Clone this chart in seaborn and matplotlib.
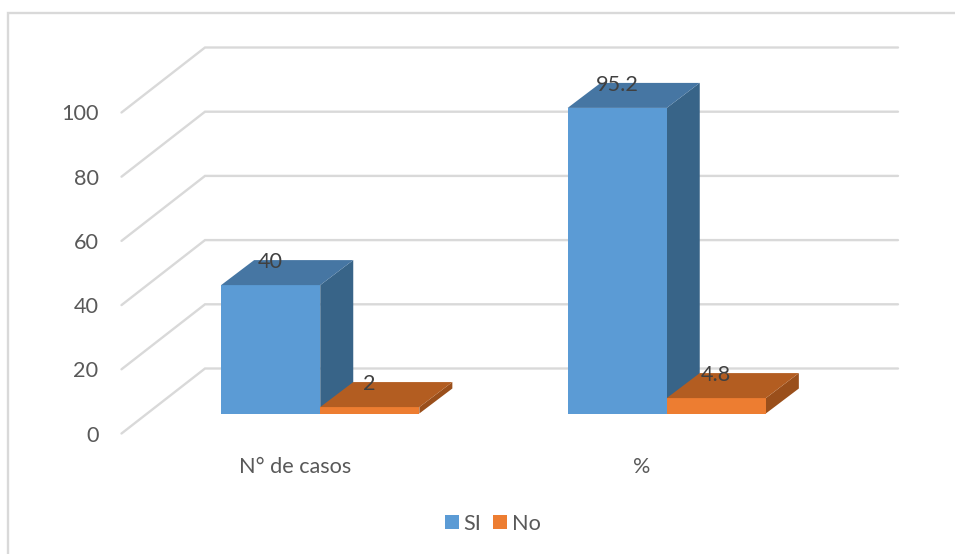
import matplotlib
matplotlib.use("Agg")
import matplotlib.pyplot as plt
import pandas as pd
import seaborn as sns
from matplotlib.lines import Line2D
from matplotlib.patches import Polygon

categories = ["N° de casos", "%"]
si_values = [40, 95.2]
no_values = [2, 4.8]
series_names = ["SI", "No"]
y_ticks = [0, 20, 40, 60, 80, 100]

W, H = 955, 554
FRONT_COLORS = ["#5B9BD5", "#ED7D31"]
TOP_COLORS = ["#4676A3", "#B35D21"]
SIDE_COLORS = ["#386488", "#9A4F1B"]
GRID = "#D9D9D9"
LABEL = "#404040"
TICK = "#595959"
FONT_SIZE = 15.6

sns.set_theme(style="white")
plt.rcParams["font.family"] = ["Lato", "DejaVu Sans"]

fig = plt.figure(figsize=(W / 100, H / 100), dpi=100)


def box(left, top, right, bottom):
    return [left / W, 1 - bottom / H, (right - left) / W, (bottom - top) / H]


# Front plane of the 3D scene: carries the axes and the floor/wall grid
wall = fig.add_axes(box(121.5, 112.5, 814.5, 433.5))
wall.set_xlim(-0.5, 1.5)
wall.set_ylim(0, 100)
wall.patch.set_alpha(0)
sns.despine(ax=wall, left=True, bottom=True)

px_x = 2 / 693     # data units per pixel along x
px_y = 100 / 321   # data units per pixel along y
depth_x, depth_y = 83.5 * px_x, 65 * px_y

for v in y_ticks:
    wall.plot([-0.5, -0.5 + depth_x, 1.5 + depth_x],
              [v, v + depth_y, v + depth_y],
              color=GRID, lw=1.7, clip_on=False, solid_joinstyle="miter", zorder=1)

wall.set_xticks(range(len(categories)), categories)
wall.set_yticks(y_ticks)
wall.tick_params(axis="x", length=0, pad=17, labelsize=FONT_SIZE, labelcolor=TICK)
wall.tick_params(axis="y", length=0, pad=16.5, labelsize=FONT_SIZE, labelcolor=TICK)

# Bars sit a little way back from the front plane
bars_ax = fig.add_axes(box(147, 92.5, 840, 413.5))
bars_ax.patch.set_alpha(0)
df = pd.DataFrame({
    "categoria": categories * 2,
    "serie": [series_names[0]] * 2 + [series_names[1]] * 2,
    "valor": si_values + no_values,
})
sns.barplot(data=df, x="categoria", y="valor", hue="serie", order=categories,
            hue_order=series_names, palette=FRONT_COLORS, width=0.572, gap=0,
            saturation=1, linewidth=0, edgecolor="none", ax=bars_ax, zorder=3)
bars_ax.set_xlim(-0.5, 1.5)
bars_ax.set_ylim(0, 100)
bars_ax.axis("off")
handles, labels = bars_ax.get_legend_handles_labels()
bars_ax.get_legend().remove()

bar_dx, bar_dy = 33 * px_x, 25 * px_y
rects = sorted(
    [(p, FRONT_COLORS.index(matplotlib.colors.to_hex(p.get_facecolor()).upper()))
     for p in bars_ax.patches if p.get_height() > 0],
    key=lambda item: item[0].get_x(),
)
for order, (rect, idx) in enumerate(rects):
    x0, w, h = rect.get_x(), rect.get_width(), rect.get_height()
    rect.set_zorder(3 + order * 3)
    bars_ax.add_patch(Polygon(
        [(x0 + w, 0), (x0 + w + bar_dx, bar_dy), (x0 + w + bar_dx, h + bar_dy), (x0 + w, h)],
        facecolor=SIDE_COLORS[idx], edgecolor="none", clip_on=False, zorder=2 + order * 3))
    bars_ax.add_patch(Polygon(
        [(x0, h), (x0 + bar_dx, h + bar_dy), (x0 + w + bar_dx, h + bar_dy), (x0 + w, h)],
        facecolor=TOP_COLORS[idx], edgecolor="none", clip_on=False, zorder=3 + order * 3))
    bars_ax.annotate(f"{h:g}", (x0 + w / 2, h), xytext=(0, 16.6),
                     textcoords="offset points", ha="center", va="center",
                     fontsize=FONT_SIZE, color=LABEL, zorder=30, annotation_clip=False)

legend = fig.legend(handles, labels, loc="center", bbox_to_anchor=(492.5 / W, 1 - 523.5 / H),
                    ncol=2, frameon=False, fontsize=FONT_SIZE, labelcolor=TICK,
                    handlelength=0.65, handleheight=0.65, handletextpad=0.2,
                    columnspacing=0.57)

# Chart-area outline: only the top and left edges fall inside the canvas
fig.add_artist(Line2D([8 / W, 8 / W, 1], [0, 1 - 13 / H, 1 - 13 / H],
                      transform=fig.transFigure, color=GRID, lw=1.7,
                      solid_joinstyle="miter"))

fig.savefig("out.png", dpi=100, facecolor="white")
